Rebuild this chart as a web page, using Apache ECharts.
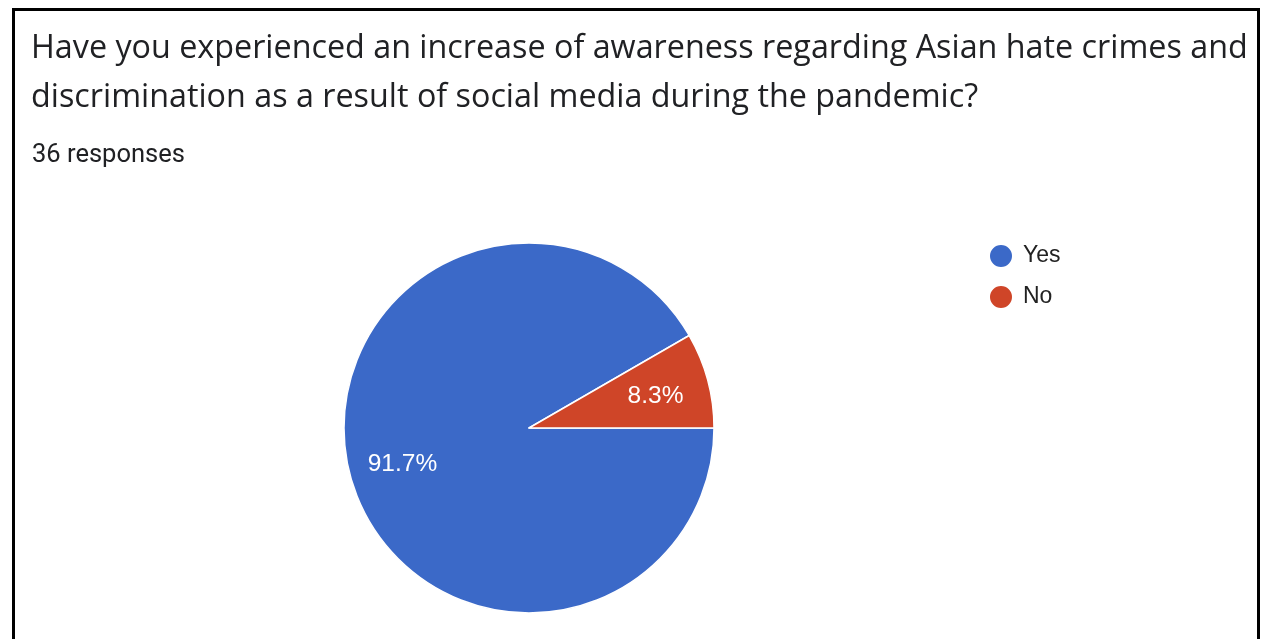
<!DOCTYPE html>
<html>
<head>
<meta charset="utf-8">
<script src="https://cdn.jsdelivr.net/npm/echarts@6/dist/echarts.min.js"></script>
<style>
html,body{margin:0;padding:0;background:#fff;}
#chart{width:1262px;height:639px;}
</style>
</head>
<body>
<div id="chart"></div>
<script>
const titleLines = ["Have you experienced an increase of awareness regarding Asian hate crimes and", "discrimination as a result of social media during the pandemic?"];
const subtitle = "36 responses";
const categories = ["Yes", "No"];
const values = [33, 3];
const colors = ["#3b69c8", "#cf4528"];

const data = categories.map((c, i) => ({ name: c, value: values[i], itemStyle: { color: colors[i] } }));
const chart = echarts.init(document.getElementById('chart'));
chart.setOption({
  backgroundColor: '#fff',
  animation: false,
  graphic: [{
    type: 'rect', shape: { x: 13.5, y: 9.5, width: 1245, height: 700 },
    style: { fill: 'none', stroke: '#000', lineWidth: 3 }, silent: true
  }],
  title: [{
    text: titleLines.join('\n'), left: 31, top: 24, padding: 0,
    textStyle: { fontFamily: 'Open Sans', fontSize: 32.3, fontWeight: 'normal', color: '#202124', lineHeight: 49 }
  }, {
    text: subtitle, left: 32, top: 143, padding: 0,
    textStyle: { fontFamily: 'Roboto', fontSize: 25.5, fontWeight: 'normal', color: '#202124' }
  }],
  legend: {
    data: categories, orient: 'vertical', left: 988, top: 243, padding: 0,
    icon: 'circle', itemWidth: 24, itemHeight: 24, itemGap: 15,
    textStyle: { fontFamily: 'Liberation Sans', fontSize: 23, color: '#222', padding: [0, 0, 0, 5] }
  },
  series: [{
    type: 'pie', center: [529, 428], radius: [0, 185], startAngle: 0, clockwise: true,
    data: data, label: { show: false }, labelLine: { show: false },
    itemStyle: { borderColor: '#fff', borderWidth: 1.5 }, emphasis: { disabled: true }
  }, {
    type: 'pie', center: [529, 430], radius: [0, 256], startAngle: 0, clockwise: true,
    data: data, silent: true, itemStyle: { opacity: 0 },
    label: { show: true, position: 'inside', formatter: p => p.percent.toFixed(1) + '%',
      color: '#fff', fontFamily: 'Liberation Sans', fontSize: 24.5, opacity: 1 },
    labelLine: { show: false }, emphasis: { disabled: true }
  }]
});
</script>
</body>
</html>
